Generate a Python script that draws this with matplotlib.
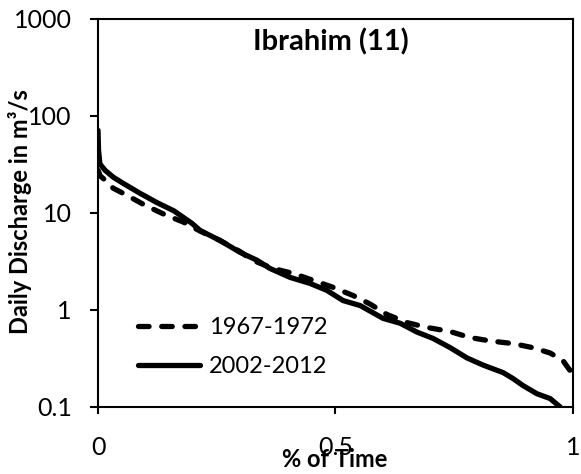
import matplotlib
matplotlib.use("Agg")
import matplotlib.pyplot as plt
from matplotlib.ticker import FixedLocator, FixedFormatter

plt.rcParams["font.family"] = ["Lato", "DejaVu Sans"]

# flow duration curves, exceedance fraction vs daily discharge
time_1967 = [0, 0.005, 0.015, 0.032, 0.061, 0.099, 0.139, 0.181, 0.215, 0.257,
             0.299, 0.326, 0.368, 0.411, 0.453, 0.495, 0.537, 0.573, 0.608,
             0.651, 0.693, 0.741, 0.783, 0.825, 0.874, 0.914, 0.952, 0.979,
             0.994, 1.0]
flow_1967 = [27.5, 24, 21.8, 18, 15.2, 12, 9.7, 8.0, 6.5, 5.2,
             4.0, 3.25, 2.68, 2.38, 2.02, 1.71, 1.41, 1.15, 0.9,
             0.74, 0.66, 0.60, 0.52, 0.48, 0.45, 0.41, 0.36, 0.30,
             0.237, 0.215]

time_2002 = [0, 0.001, 0.004, 0.015, 0.032, 0.053, 0.088, 0.124, 0.16, 0.198,
             0.215, 0.257, 0.299, 0.335, 0.362, 0.404, 0.446, 0.482, 0.516,
             0.552, 0.6, 0.636, 0.672, 0.705, 0.741, 0.777, 0.811, 0.853,
             0.874, 0.895, 0.924, 0.952, 0.973]
flow_2002 = [71, 45, 32, 27.5, 23.4, 20.2, 16, 12.8, 10.5, 7.8,
             6.6, 5.2, 3.93, 3.25, 2.68, 2.17, 1.88, 1.59, 1.25,
             1.11, 0.82, 0.73, 0.59, 0.51, 0.41, 0.32, 0.27, 0.226,
             0.196, 0.166, 0.137, 0.122, 0.1]

x_ticks = [0, 0.5, 1]
x_labels = ["0", "0.5", "1"]
y_ticks = [0.1, 1, 10, 100, 1000]
y_labels = ["0.1", "1", "10", "100", "1000"]

fig = plt.figure(figsize=(5.81, 4.74), dpi=100)
ax = fig.add_axes([0.1687, 0.1414, 0.8175, 0.8186])

ax.plot(time_1967, flow_1967, color="black", lw=3.8, ls=(0, (2.0, 2.4)),
        solid_capstyle="round", dash_capstyle="round", label="1967-1972")
ax.plot(time_2002, flow_2002, color="black", lw=3.8,
        solid_capstyle="round", solid_joinstyle="round", label="2002-2012")

ax.set_yscale("log")
ax.set_xlim(0, 1)
ax.set_ylim(0.1, 1000)
ax.xaxis.set_major_locator(FixedLocator(x_ticks))
ax.xaxis.set_major_formatter(FixedFormatter(x_labels))
ax.yaxis.set_major_locator(FixedLocator(y_ticks))
ax.yaxis.set_major_formatter(FixedFormatter(y_labels))
ax.yaxis.set_minor_locator(FixedLocator([]))

for s in ax.spines.values():
    s.set_linewidth(1.5)
ax.tick_params(axis="y", direction="out", length=6, width=1.5, pad=13,
               labelsize=18)
ax.tick_params(axis="x", direction="out", length=5, width=1.5, pad=16,
               labelsize=18)

ax.text(0.49, 0.941, "Ibrahim (11)", transform=ax.transAxes, fontsize=21,
        fontweight="bold", ha="center", va="center")
ax.set_xlabel("% of Time", fontsize=17, fontweight="bold")
ax.xaxis.set_label_coords(0.499, -0.105)
ax.set_ylabel("Daily Discharge in m³/s", fontsize=17, fontweight="bold")
ax.yaxis.set_label_coords(-0.139, 0.503)

ax.legend(loc="lower left", bbox_to_anchor=(0.04, 0.023), frameon=False,
          fontsize=17, handlelength=2.6, handletextpad=0.4, labelspacing=0.75)

fig.savefig("out.png", dpi=100)
